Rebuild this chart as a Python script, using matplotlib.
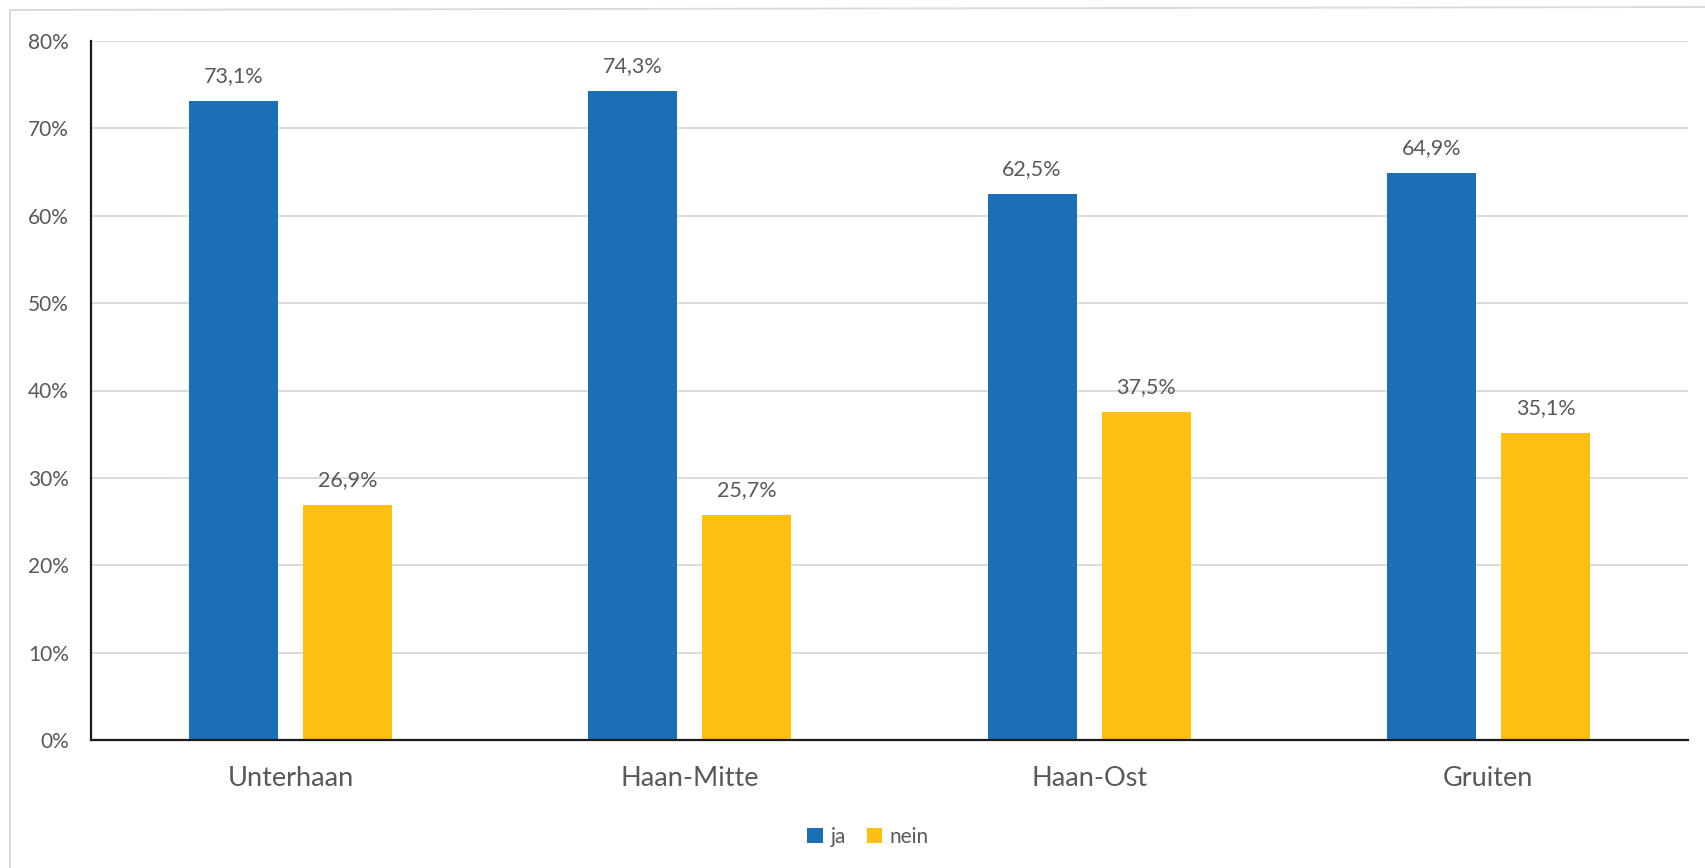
import numpy as np
from matplotlib import pyplot as plt
from matplotlib.lines import Line2D

categories = ["Unterhaan", "Haan-Mitte", "Haan-Ost", "Gruiten"]
ja = [73.1, 74.3, 62.5, 64.9]
nein = [26.9, 25.7, 37.5, 35.1]
y_ticks = [0, 10, 20, 30, 40, 50, 60, 70, 80]

plt.rcParams["font.family"] = ["Lato", "DejaVu Sans"]
text_color = "#595959"
blue = "#1b6fb7"
yellow = "#fdbf12"

fig = plt.figure(figsize=(17.06, 8.68), dpi=100)
ax = fig.add_axes([91 / 1706, 1 - 740 / 868, (1688 - 91) / 1706, (740 - 41) / 868])

x = np.arange(len(categories))
w = 0.223
off = 0.143
b1 = ax.bar(x - off, ja, w, color=blue, label="ja", zorder=3)
b2 = ax.bar(x + off, nein, w, color=yellow, label="nein", zorder=3)

for bars, vals in ((b1, ja), (b2, nein)):
    for bar, v in zip(bars, vals):
        ax.annotate(f"{v:.1f}".replace(".", ",") + "%",
                    (bar.get_x() + bar.get_width() / 2, v),
                    xytext=(0, 18), textcoords="offset points",
                    ha="center", va="center", fontsize=15.5, color=text_color)

ax.set_xlim(-0.5, len(categories) - 0.5)
ax.set_ylim(0, 80)
ax.set_yticks(y_ticks)
ax.set_yticklabels([f"{t}%" for t in y_ticks])
ax.set_xticks(x)
ax.set_xticklabels(categories)
ax.tick_params(axis="y", length=0, pad=16, labelsize=15, labelcolor=text_color)
ax.tick_params(axis="x", length=0, pad=19, labelsize=19.5, labelcolor=text_color)
ax.grid(axis="y", color="#d9d9d9", linewidth=1.3, zorder=0)
ax.set_axisbelow(True)
for s in ("top", "right"):
    ax.spines[s].set_visible(False)
for s in ("left", "bottom"):
    ax.spines[s].set_color("#1a1a1a")
    ax.spines[s].set_linewidth(1.6)
    ax.spines[s].set_zorder(4)

fig.legend(loc="center", bbox_to_anchor=(868 / 1706, 1 - 837 / 868), ncol=2,
           frameon=False, fontsize=15, labelcolor=text_color,
           handlelength=0.75, handleheight=0.75, handletextpad=0.35,
           columnspacing=1.0)

# chart area frame (left and top edges visible)
fig.add_artist(Line2D([10 / 1706, 10 / 1706], [0, 1 - 11 / 868],
                      transform=fig.transFigure, color="#d9d9d9", linewidth=1.3))
fig.add_artist(Line2D([10 / 1706, 1], [1 - 10 / 868, 1 - 7 / 868],
                      transform=fig.transFigure, color="#d9d9d9", linewidth=1.3))

fig.savefig("out.png", dpi=100)
